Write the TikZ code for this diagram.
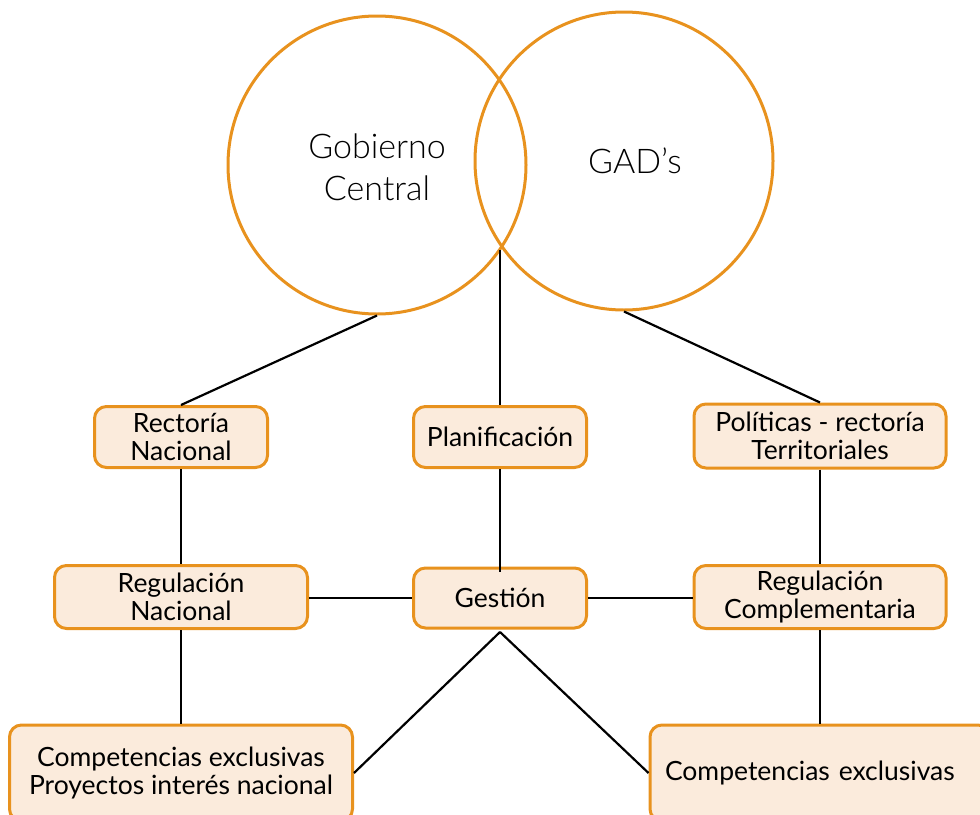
\documentclass[tikz,border=0pt]{standalone}
\usepackage{fontspec}
\setmainfont{Lato}
\newfontfamily\lightfont{Lato Light}
\usetikzlibrary{intersections}
\definecolor{borange}{HTML}{E8921E}
\definecolor{bfill}{HTML}{FBEBDC}
\tikzset{
  bubble/.style={draw=borange, line width=3pt, circle, minimum size=298pt, inner sep=0pt},
  bubbletext/.style={font=\lightfont\fontsize{34}{42}\selectfont, align=center},
  boxnode/.style={draw=borange, fill=bfill, line width=3pt, rounded corners=12pt, align=center, inner sep=0pt, font=\fontsize{26.5}{28}\selectfont},
  link/.style={line width=2.2pt, black}
}
\begin{document}
\begin{tikzpicture}[x=1pt,y=-1pt]
\useasboundingbox (0,0) rectangle (980,814);
\clip (0,0) rectangle (980,814);
% circles
\node[bubble] (gc) at (377,165) {};
\node[bubble] (gad) at (624,161) {};
\node[bubbletext] (gct) at (377,167) {Gobierno\\Central};
\node[bubbletext] (gadt) at (635,161) {GAD’s};
\coordinate (low) at (500,250);
% boxes
\node[boxnode, minimum width=173pt, minimum height=61pt] (rect) at (181,437) {Rectoría\\Nacional};
\node[boxnode, minimum width=173pt, minimum height=61pt] (plan) at (500,437) {Planificación};
\node[boxnode, minimum width=252pt, minimum height=64pt] (pol) at (820,436) {Políticas - rectoría\\Territoriales};
\node[boxnode, minimum width=253pt, minimum height=63pt] (regn) at (181,597) {Regulación\\Nacional};
\node[boxnode, minimum width=173pt, minimum height=60pt] (gest) at (500,598) {Gestión};
\node[boxnode, minimum width=252pt, minimum height=63pt] (regc) at (820,597) {Regulación\\Complementaria};
\node[boxnode, minimum width=343pt, minimum height=96pt] (cel) at (181,773) {Competencias exclusivas\\Proyectos interés nacional};
\node[boxnode, minimum width=340pt, minimum height=96pt, text width=330pt, align=left] (cer) at (820,773) {\hspace*{10pt}Competencias exclusivas};
\coordinate (gdown) at (500,632);
% connectors
\draw[link] (gc.south) -- (rect.north);
\draw[link] (low) -- (plan.north);
\draw[link] (gad.south) -- (pol.north);
\draw[link] (rect.south) -- (regn.north);
\draw[link] (plan.south) -- ([yshift=-5pt]gest.north);
\draw[link] (pol.south) -- (regc.north);
\draw[link] (gest.west -| regn.east) -- (gest.west);
\draw[link] (gest.east) -- (gest.east -| regc.west);
\draw[link] (regn.south) -- (cel.north);
\draw[link] (regc.south) -- (cer.north);
\draw[link] (gdown) -- (cel.east);
\draw[link] (gdown) -- (cer.west);
\end{tikzpicture}
\end{document}
